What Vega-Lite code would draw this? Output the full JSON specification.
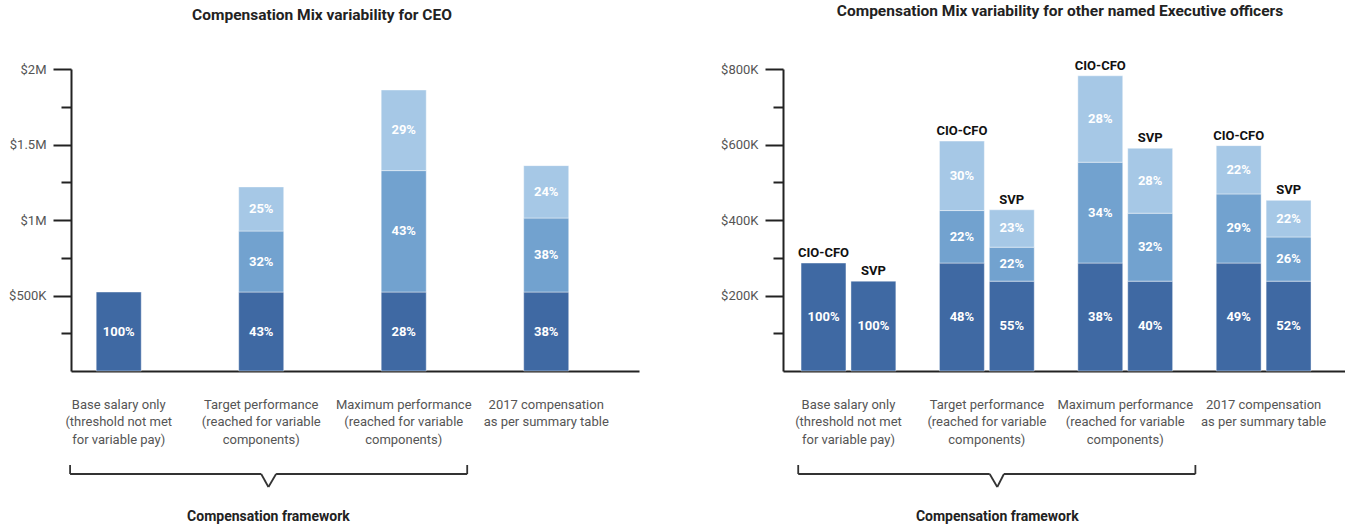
{
  "$schema": "https://vega.github.io/schema/vega-lite/v6.json",
  "padding": {"left": 8, "top": 4, "right": 0, "bottom": 0},
  "background": "#ffffff",
  "spacing": 81,
  "datasets": {
    "ceo": [
      {"framework": "Base salary only\n(threshold not met\nfor variable pay)", "component": "Base salary", "amount": 523000, "pct": "100%"},
      {"framework": "Target performance\n(reached for variable\ncomponents)", "component": "Base salary", "amount": 523000, "pct": "43%"},
      {"framework": "Target performance\n(reached for variable\ncomponents)", "component": "Long-term incentive", "amount": 404000, "pct": "32%"},
      {"framework": "Target performance\n(reached for variable\ncomponents)", "component": "Short-term incentive", "amount": 292000, "pct": "25%"},
      {"framework": "Maximum performance\n(reached for variable\ncomponents)", "component": "Base salary", "amount": 523000, "pct": "28%"},
      {"framework": "Maximum performance\n(reached for variable\ncomponents)", "component": "Long-term incentive", "amount": 804000, "pct": "43%"},
      {"framework": "Maximum performance\n(reached for variable\ncomponents)", "component": "Short-term incentive", "amount": 534000, "pct": "29%"},
      {"framework": "2017 compensation\nas per summary table", "component": "Base salary", "amount": 523000, "pct": "38%"},
      {"framework": "2017 compensation\nas per summary table", "component": "Long-term incentive", "amount": 490000, "pct": "38%"},
      {"framework": "2017 compensation\nas per summary table", "component": "Short-term incentive", "amount": 347000, "pct": "24%"}
    ],
    "neo": [
      {"framework": "Base salary only\n(threshold not met\nfor variable pay)", "role": "CIO-CFO", "component": "Base salary", "amount": 286000, "pct": "100%"},
      {"framework": "Base salary only\n(threshold not met\nfor variable pay)", "role": "SVP", "component": "Base salary", "amount": 238000, "pct": "100%"},
      {"framework": "Target performance\n(reached for variable\ncomponents)", "role": "CIO-CFO", "component": "Base salary", "amount": 286000, "pct": "48%"},
      {"framework": "Target performance\n(reached for variable\ncomponents)", "role": "CIO-CFO", "component": "Long-term incentive", "amount": 139000, "pct": "22%"},
      {"framework": "Target performance\n(reached for variable\ncomponents)", "role": "CIO-CFO", "component": "Short-term incentive", "amount": 184000, "pct": "30%"},
      {"framework": "Target performance\n(reached for variable\ncomponents)", "role": "SVP", "component": "Base salary", "amount": 238000, "pct": "55%"},
      {"framework": "Target performance\n(reached for variable\ncomponents)", "role": "SVP", "component": "Long-term incentive", "amount": 90000, "pct": "22%"},
      {"framework": "Target performance\n(reached for variable\ncomponents)", "role": "SVP", "component": "Short-term incentive", "amount": 99000, "pct": "23%"},
      {"framework": "Maximum performance\n(reached for variable\ncomponents)", "role": "CIO-CFO", "component": "Base salary", "amount": 286000, "pct": "38%"},
      {"framework": "Maximum performance\n(reached for variable\ncomponents)", "role": "CIO-CFO", "component": "Long-term incentive", "amount": 267000, "pct": "34%"},
      {"framework": "Maximum performance\n(reached for variable\ncomponents)", "role": "CIO-CFO", "component": "Short-term incentive", "amount": 229000, "pct": "28%"},
      {"framework": "Maximum performance\n(reached for variable\ncomponents)", "role": "SVP", "component": "Base salary", "amount": 238000, "pct": "40%"},
      {"framework": "Maximum performance\n(reached for variable\ncomponents)", "role": "SVP", "component": "Long-term incentive", "amount": 180000, "pct": "32%"},
      {"framework": "Maximum performance\n(reached for variable\ncomponents)", "role": "SVP", "component": "Short-term incentive", "amount": 172000, "pct": "28%"},
      {"framework": "2017 compensation\nas per summary table", "role": "CIO-CFO", "component": "Base salary", "amount": 286000, "pct": "49%"},
      {"framework": "2017 compensation\nas per summary table", "role": "CIO-CFO", "component": "Long-term incentive", "amount": 183000, "pct": "29%"},
      {"framework": "2017 compensation\nas per summary table", "role": "CIO-CFO", "component": "Short-term incentive", "amount": 128000, "pct": "22%"},
      {"framework": "2017 compensation\nas per summary table", "role": "SVP", "component": "Base salary", "amount": 238000, "pct": "52%"},
      {"framework": "2017 compensation\nas per summary table", "role": "SVP", "component": "Long-term incentive", "amount": 117000, "pct": "26%"},
      {"framework": "2017 compensation\nas per summary table", "role": "SVP", "component": "Short-term incentive", "amount": 97000, "pct": "22%"}
    ],
    "one": [{"label": "Compensation framework"}]
  },
  "hconcat": [
    {
      "width": 568,
      "height": 302,
      "title": {"text": "Compensation Mix variability for CEO", "dx": -33},
      "data": {"name": "ceo"},
      "layer": [
        {
          "mark": {"type": "bar", "stroke": "#ffffff", "strokeWidth": 0.7, "strokeOpacity": 0.6},
          "encoding": {
            "x": {"field": "framework", "type": "nominal", "sort": null,
                  "scale": {"paddingInner": 0.684, "paddingOuter": 0.335, "align": 0.264},
                  "axis": {"title": null, "ticks": false, "labelAngle": 0, "labelExpr": "split(datum.label, '\\n')", "labelPadding": 27, "labelBaseline": "top", "labelLineHeight": 17.5, "domainColor": "#222222", "domainWidth": 2, "labelColor": "#555555", "labelFontSize": 13}},
            "y": {"field": "amount", "type": "quantitative", "stack": "zero",
                  "scale": {"domain": [0, 2000000], "nice": false},
                  "axis": {"title": null, "values": [500000, 1000000, 1500000, 2000000], "labelExpr": "datum.value >= 1000000 ? '$' + datum.value / 1000000 + 'M' : '$' + datum.value / 1000 + 'K'", "tickSize": 18, "tickWidth": 2, "tickColor": "#222222", "domainColor": "#222222", "domainWidth": 2, "labelPadding": 7, "labelColor": "#555555", "labelFontSize": 13, "grid": false, "orient": "left"}},
            "color": {"field": "component", "type": "nominal",
                      "scale": {"domain": ["Base salary", "Long-term incentive", "Short-term incentive"], "range": ["#3f69a3", "#72a2cf", "#a6c8e6"]},
                      "legend": null},
            "order": {"field": "component", "type": "ordinal", "sort": "ascending"}
          }
        },
        {
          "mark": {"type": "text", "color": "#ffffff", "fontWeight": "bold", "fontSize": 13, "baseline": "middle"},
          "encoding": {
            "x": {"field": "framework", "type": "nominal", "sort": null},
            "y": {"field": "amount", "type": "quantitative", "stack": "zero", "bandPosition": 0.5,
                  "axis": {"title": null, "values": [250000, 750000, 1250000, 1750000], "labels": false, "domain": false, "tickSize": 10, "tickWidth": 2, "tickColor": "#222222", "grid": false, "orient": "left"}},
            "detail": {"field": "component"},
            "order": {"field": "component", "type": "ordinal", "sort": "ascending"},
            "text": {"field": "pct"}
          }
        },
        {
          "data": {"name": "one"},
          "mark": {"type": "rule", "color": "#333333", "strokeWidth": 1.8},
          "encoding": {
            "x": {"datum": "Base salary only\n(threshold not met\nfor variable pay)", "bandPosition": -0.58},
            "y": {"datum": -622500, "type": "quantitative", "axis": null},
            "y2": {"datum": -682100}
          }
        },
        {
          "data": {"name": "one"},
          "mark": {"type": "rule", "color": "#333333", "strokeWidth": 1.8},
          "encoding": {
            "x": {"datum": "Base salary only\n(threshold not met\nfor variable pay)", "bandPosition": -0.58},
            "x2": {"datum": "Target performance\n(reached for variable\ncomponents)", "bandPosition": 0.5},
            "y": {"datum": -682100, "type": "quantitative", "axis": null}
          }
        },
        {
          "data": {"name": "one"},
          "mark": {"type": "rule", "color": "#333333", "strokeWidth": 1.8},
          "encoding": {
            "x": {"datum": "Target performance\n(reached for variable\ncomponents)", "bandPosition": 0.5},
            "x2": {"datum": "Target performance\n(reached for variable\ncomponents)", "bandPosition": 0.66},
            "y": {"datum": -682100, "type": "quantitative", "axis": null},
            "y2": {"datum": -768200}
          }
        },
        {
          "data": {"name": "one"},
          "mark": {"type": "rule", "color": "#333333", "strokeWidth": 1.8},
          "encoding": {
            "x": {"datum": "Target performance\n(reached for variable\ncomponents)", "bandPosition": 0.66},
            "x2": {"datum": "Target performance\n(reached for variable\ncomponents)", "bandPosition": 0.83},
            "y": {"datum": -768200, "type": "quantitative", "axis": null},
            "y2": {"datum": -682100}
          }
        },
        {
          "data": {"name": "one"},
          "mark": {"type": "rule", "color": "#333333", "strokeWidth": 1.8},
          "encoding": {
            "x": {"datum": "Target performance\n(reached for variable\ncomponents)", "bandPosition": 0.83},
            "x2": {"datum": "Maximum performance\n(reached for variable\ncomponents)", "bandPosition": 1.91},
            "y": {"datum": -682100, "type": "quantitative", "axis": null}
          }
        },
        {
          "data": {"name": "one"},
          "mark": {"type": "rule", "color": "#333333", "strokeWidth": 1.8},
          "encoding": {
            "x": {"datum": "Maximum performance\n(reached for variable\ncomponents)", "bandPosition": 1.91},
            "y": {"datum": -622500, "type": "quantitative", "axis": null},
            "y2": {"datum": -682100}
          }
        },
        {
          "data": {"name": "one"},
          "mark": {"type": "text", "fontWeight": "bold", "fontSize": 14, "color": "#222222", "baseline": "middle"},
          "encoding": {
            "x": {"datum": "Target performance\n(reached for variable\ncomponents)", "bandPosition": 0.66},
            "y": {"datum": -968000, "type": "quantitative", "axis": null},
            "text": {"field": "label"}
          }
        }
      ],
      "resolve": {"axis": {"y": "independent"}}
    },
    {
      "width": 562,
      "height": 302,
      "title": {"text": "Compensation Mix variability for other named Executive officers", "dx": -4},
      "data": {"name": "neo"},
      "layer": [
        {
          "mark": {"type": "bar", "stroke": "#ffffff", "strokeWidth": 0.7, "strokeOpacity": 0.6},
          "encoding": {
            "x": {"field": "framework", "type": "nominal", "sort": null,
                  "scale": {"paddingInner": 0.315, "paddingOuter": 0.188, "align": 0.347},
                  "axis": {"title": null, "ticks": false, "labelAngle": 0, "labelExpr": "split(datum.label, '\\n')", "labelPadding": 27, "labelBaseline": "top", "labelLineHeight": 17.5, "domainColor": "#222222", "domainWidth": 2, "labelColor": "#555555", "labelFontSize": 13}},
            "xOffset": {"field": "role", "type": "nominal", "scale": {"domain": ["CIO-CFO", "SVP"], "paddingInner": 0.1, "paddingOuter": 0}},
            "y": {"field": "amount", "type": "quantitative", "stack": "zero",
                  "scale": {"domain": [0, 800000], "nice": false},
                  "axis": {"title": null, "values": [200000, 400000, 600000, 800000], "labelExpr": "'$' + datum.value / 1000 + 'K'", "tickSize": 18, "tickWidth": 2, "tickColor": "#222222", "domainColor": "#222222", "domainWidth": 2, "labelPadding": 7, "labelColor": "#555555", "labelFontSize": 13, "grid": false, "orient": "left"}},
            "color": {"field": "component", "type": "nominal",
                      "scale": {"domain": ["Base salary", "Long-term incentive", "Short-term incentive"], "range": ["#3f69a3", "#72a2cf", "#a6c8e6"]},
                      "legend": null},
            "order": {"field": "component", "type": "ordinal", "sort": "ascending"}
          }
        },
        {
          "mark": {"type": "text", "color": "#ffffff", "fontWeight": "bold", "fontSize": 13, "baseline": "middle"},
          "encoding": {
            "x": {"field": "framework", "type": "nominal", "sort": null},
            "xOffset": {"field": "role", "type": "nominal"},
            "y": {"field": "amount", "type": "quantitative", "stack": "zero", "bandPosition": 0.5,
                  "axis": {"title": null, "values": [100000, 300000, 500000, 700000], "labels": false, "domain": false, "tickSize": 10, "tickWidth": 2, "tickColor": "#222222", "grid": false, "orient": "left"}},
            "detail": {"field": "component"},
            "order": {"field": "component", "type": "ordinal", "sort": "ascending"},
            "text": {"field": "pct"}
          }
        },
        {
          "transform": [
            {"joinaggregate": [{"op": "sum", "field": "amount", "as": "total"}], "groupby": ["framework", "role"]},
            {"filter": "datum.component == 'Base salary'"}
          ],
          "mark": {"type": "text", "color": "#111111", "fontWeight": "bold", "fontSize": 13, "baseline": "alphabetic", "dy": -6},
          "encoding": {
            "x": {"field": "framework", "type": "nominal", "sort": null},
            "xOffset": {"field": "role", "type": "nominal"},
            "y": {"field": "total", "type": "quantitative", "axis": null},
            "text": {"field": "role"}
          }
        },
        {
          "data": {"name": "one"},
          "mark": {"type": "rule", "color": "#333333", "strokeWidth": 1.8},
          "encoding": {
            "x": {"datum": "Base salary only\n(threshold not met\nfor variable pay)", "bandPosition": -0.03},
            "y": {"datum": -249000, "type": "quantitative", "axis": null},
            "y2": {"datum": -272800}
          }
        },
        {
          "data": {"name": "one"},
          "mark": {"type": "rule", "color": "#333333", "strokeWidth": 1.8},
          "encoding": {
            "x": {"datum": "Base salary only\n(threshold not met\nfor variable pay)", "bandPosition": -0.03},
            "x2": {"datum": "Target performance\n(reached for variable\ncomponents)", "bandPosition": 0.53},
            "y": {"datum": -272800, "type": "quantitative", "axis": null}
          }
        },
        {
          "data": {"name": "one"},
          "mark": {"type": "rule", "color": "#333333", "strokeWidth": 1.8},
          "encoding": {
            "x": {"datum": "Target performance\n(reached for variable\ncomponents)", "bandPosition": 0.53},
            "x2": {"datum": "Target performance\n(reached for variable\ncomponents)", "bandPosition": 0.61},
            "y": {"datum": -272800, "type": "quantitative", "axis": null},
            "y2": {"datum": -307300}
          }
        },
        {
          "data": {"name": "one"},
          "mark": {"type": "rule", "color": "#333333", "strokeWidth": 1.8},
          "encoding": {
            "x": {"datum": "Target performance\n(reached for variable\ncomponents)", "bandPosition": 0.61},
            "x2": {"datum": "Target performance\n(reached for variable\ncomponents)", "bandPosition": 0.68},
            "y": {"datum": -307300, "type": "quantitative", "axis": null},
            "y2": {"datum": -272800}
          }
        },
        {
          "data": {"name": "one"},
          "mark": {"type": "rule", "color": "#333333", "strokeWidth": 1.8},
          "encoding": {
            "x": {"datum": "Target performance\n(reached for variable\ncomponents)", "bandPosition": 0.68},
            "x2": {"datum": "Maximum performance\n(reached for variable\ncomponents)", "bandPosition": 1.24},
            "y": {"datum": -272800, "type": "quantitative", "axis": null}
          }
        },
        {
          "data": {"name": "one"},
          "mark": {"type": "rule", "color": "#333333", "strokeWidth": 1.8},
          "encoding": {
            "x": {"datum": "Maximum performance\n(reached for variable\ncomponents)", "bandPosition": 1.24},
            "y": {"datum": -249000, "type": "quantitative", "axis": null},
            "y2": {"datum": -272800}
          }
        },
        {
          "data": {"name": "one"},
          "mark": {"type": "text", "fontWeight": "bold", "fontSize": 14, "color": "#222222", "baseline": "middle"},
          "encoding": {
            "x": {"datum": "Target performance\n(reached for variable\ncomponents)", "bandPosition": 0.61},
            "y": {"datum": -387000, "type": "quantitative", "axis": null},
            "text": {"field": "label"}
          }
        }
      ],
      "resolve": {"axis": {"y": "independent"}}
    }
  ],
  "config": {
    "font": "Roboto",
    "view": {"stroke": null},
    "title": {"fontSize": 15.5, "fontWeight": "bold", "color": "#222222", "anchor": "middle", "offset": 40},
    "axis": {"labelFont": "Roboto", "labelFontWeight": "normal"}
  }
}
